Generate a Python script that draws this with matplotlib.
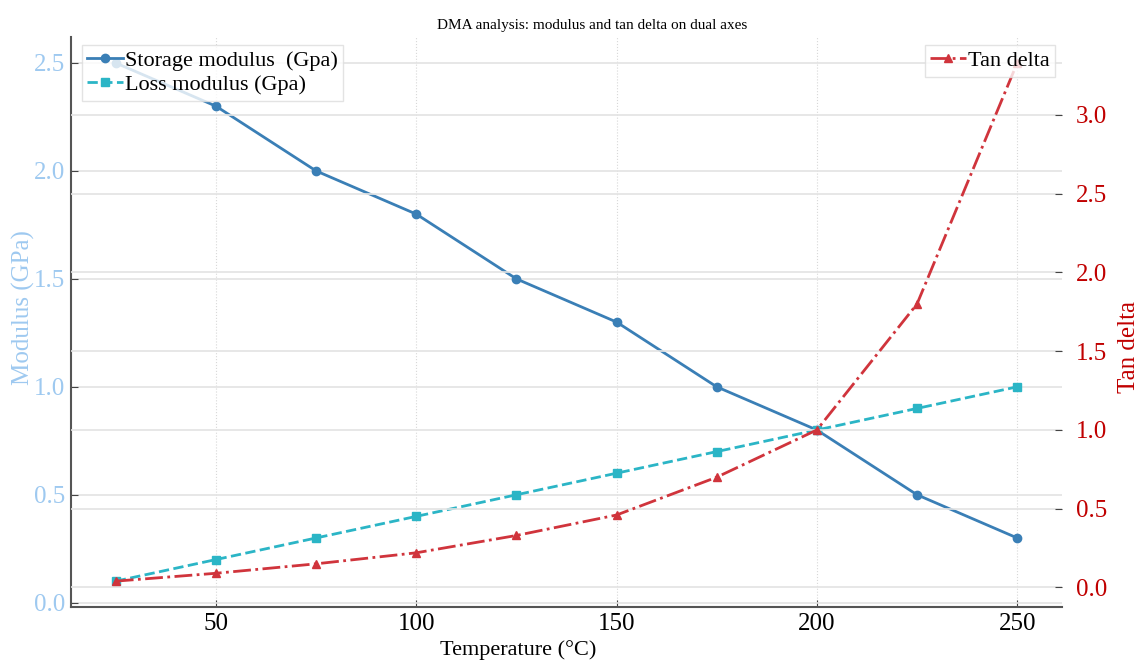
import matplotlib.pyplot as plt

# data
temperature = [25, 50, 75, 100, 125, 150, 175, 200, 225, 250]
storage_modulus = [2.5, 2.3, 2.0, 1.8, 1.5, 1.3, 1.0, 0.8, 0.5, 0.3]
loss_modulus = [0.1, 0.2, 0.3, 0.4, 0.5, 0.6, 0.7, 0.8, 0.9, 1.0]
tan_delta = [0.04, 0.09, 0.15, 0.22, 0.33, 0.46, 0.70, 1.00, 1.80, 3.33]

plt.rcParams["font.family"] = ["Liberation Serif", "DejaVu Serif"]

fig = plt.figure(figsize=(11.41, 6.62), dpi=100)
ax = fig.add_axes([0.062, 0.083, 0.869, 0.861])
ax2 = ax.twinx()

# left axis: modulus
ax.plot(temperature, storage_modulus, color="#3a7fb6", marker="o", markersize=6,
        linewidth=2, label="Storage modulus  (Gpa)")
ax.plot(temperature, loss_modulus, color="#2bb5c6", marker="s", markersize=6,
        linewidth=2, linestyle="--", label="Loss modulus (Gpa)")

# right axis: tan delta
ax2.plot(temperature, tan_delta, color="#d0343c", marker="^", markersize=6,
         linewidth=2, linestyle="-.", label="Tan delta")

ax.set_xticks([50, 100, 150, 200, 250])
ax.set_yticks([0.0, 0.5, 1.0, 1.5, 2.0, 2.5])
ax2.set_yticks([0.0, 0.5, 1.0, 1.5, 2.0, 2.5, 3.0])

ax.grid(axis="y", color="#e3e3e3", linewidth=1.2)
ax.grid(axis="x", color="#d8d8d8", linewidth=0.8, linestyle=":")
ax2.grid(axis="y", color="#e3e3e3", linewidth=1.2)

for a in (ax, ax2):
    a.spines["top"].set_visible(False)
    a.spines["right"].set_visible(False)
ax2.spines["left"].set_visible(False)
ax2.spines["bottom"].set_visible(False)
ax.spines["left"].set_color("#555555")
ax.spines["bottom"].set_color("#555555")
ax.spines["left"].set_linewidth(1.5)
ax.spines["bottom"].set_linewidth(1.5)

ax.tick_params(axis="both", direction="in", length=5, color="#444444",
               labelsize=18, pad=4)
ax.tick_params(axis="y", labelcolor="#9ec9f0")
ax2.tick_params(axis="y", direction="in", length=5, color="#444444",
                labelsize=18, labelcolor="#c00000", pad=10)

ax.set_xlabel("Temperature (°C)", fontsize=16)
ax.xaxis.set_label_coords(0.451, -0.058)
ax.set_ylabel("Modulus (GPa)", fontsize=18, color="#9ec9f0")
ax.yaxis.set_label_coords(-0.036, 0.526)
ax2.set_ylabel("Tan delta", fontsize=18, color="#c00000")
ax2.yaxis.set_label_coords(1.056, 0.456)

fig.text(0.519, 0.962, "DMA analysis: modulus and tan delta on dual axes",
         fontsize=11, ha="center", va="center")

leg1 = ax.legend(loc="upper left", bbox_to_anchor=(0.011, 0.986), fontsize=16,
                 handlelength=1.6, handletextpad=0.1, borderaxespad=0,
                 borderpad=0.25, labelspacing=0.15, frameon=True, fancybox=False)
leg1.get_frame().set_edgecolor("#dddddd")
leg2 = ax2.legend(loc="upper right", bbox_to_anchor=(0.993, 0.986), fontsize=16,
                  handlelength=1.6, handletextpad=0.1, borderaxespad=0,
                  borderpad=0.25, frameon=True, fancybox=False)
leg2.get_frame().set_edgecolor("#dddddd")

fig.savefig("out.png", dpi=100)
